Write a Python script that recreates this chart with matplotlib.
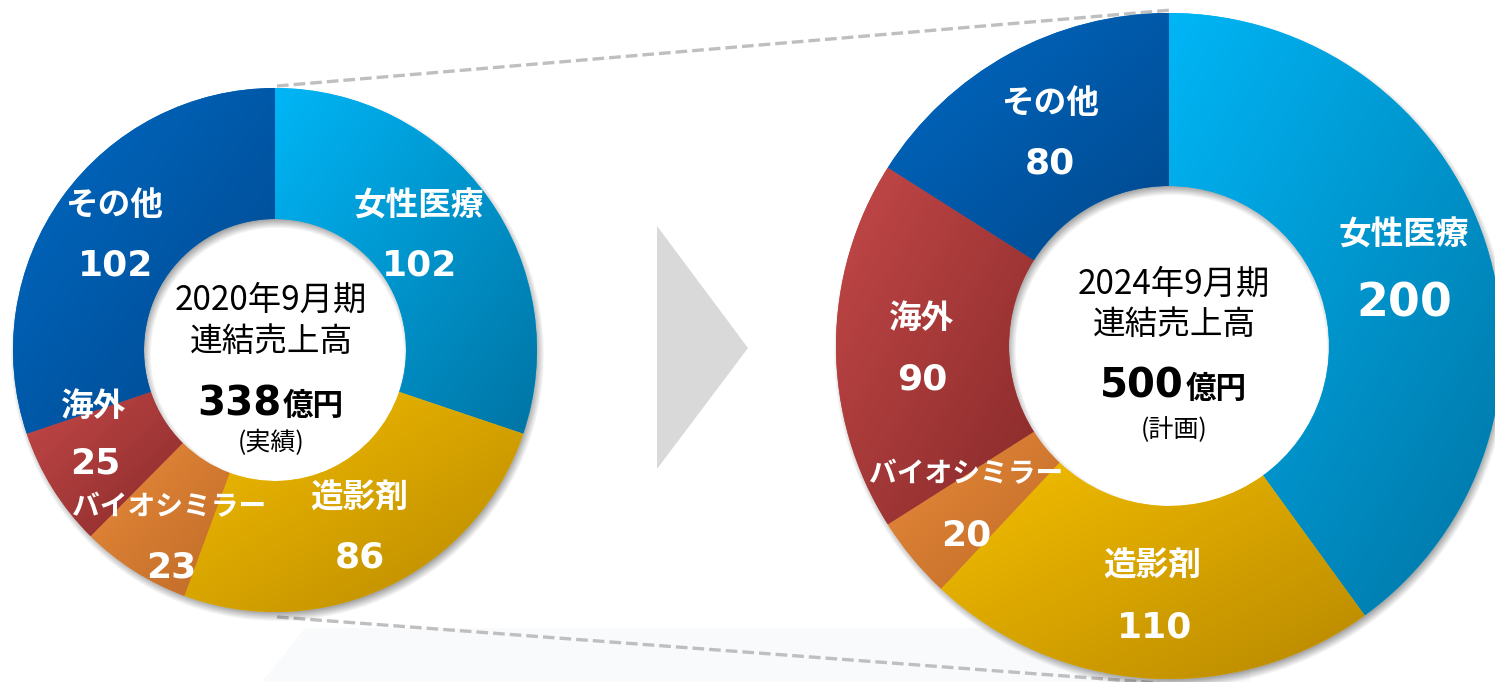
import numpy as np
import matplotlib.pyplot as plt
from matplotlib.patches import Polygon
from matplotlib.colors import to_rgb

plt.rcParams['font.family'] = ['Noto Sans CJK JP', 'DejaVu Sans']

# data
segments = ['女性医療', '造影剤', 'バイオシミラー', '海外', 'その他']
sales_2020 = [102, 86, 23, 25, 102]
sales_2024 = [200, 110, 20, 90, 80]
total_2020 = 338
total_2024 = 500
period_2020 = '2020年9月期'
period_2024 = '2024年9月期'
note_2020 = '(実績)'
note_2024 = '(計画)'

# gradient colours per segment (top-left -> bottom-right)
light = ['#00B6F6', '#F5BF00', '#E98B3A', '#C44848', '#006AC4']
dark = ['#0074A4', '#B88800', '#BE6A28', '#882A2A', '#00478C']

W, H = 1495, 682


def Y(y):
    # picture rows (top down) -> data y (bottom up)
    return H - y


fig = plt.figure(figsize=(W / 100, H / 100), dpi=100)
ax = fig.add_axes([0, 0, 1, 1])

# faint floor tint
ax.add_patch(Polygon([(262, Y(682)), (305, Y(628)), (1250, Y(628)), (1250, Y(682))],
                     closed=True, fc='#F9FAFC', ec='none', zorder=0))

# dashed connector lines and arrow
ax.plot([277, 1172], [Y(86), Y(10)], color='#BFBFBF', lw=2.4, dashes=(3.5, 1.5), zorder=1)
ax.plot([277, 1172], [Y(617), Y(684)], color='#BFBFBF', lw=2.4, dashes=(3.5, 1.5), zorder=1)
ax.add_patch(Polygon([(657, Y(226)), (748, Y(348)), (657, Y(469))],
                     closed=True, fc='#D9D9D9', ec='none', zorder=1))


def shadow(cx, cy, r_out, r_in, off=(2, -4), blur=5, a=0.38):
    x0, x1 = cx - r_out - 20, cx + r_out + 20
    y0, y1 = cy - r_out - 20, cy + r_out + 20
    xs = np.arange(x0, x1)
    ys = np.arange(y1, y0, -1)
    gx, gy = np.meshgrid(xs, ys)
    d = np.hypot(gx - cx - off[0], gy - cy - off[1])
    sm = lambda v: np.clip((v + blur) / (2 * blur), 0, 1)
    alpha = a * sm(r_out - d) * sm(d - r_in)
    img = np.zeros(alpha.shape + (4,))
    img[..., 3] = alpha
    ax.imshow(img, extent=(x0, x1, y0, y1), origin='upper', zorder=1.5)


def donut(values, cx, cy, r_out, r_in):
    shadow(cx, cy, r_out, r_in)
    wedges, _ = ax.pie(values, center=(cx, cy), radius=r_out, startangle=90,
                       counterclock=False, colors=light, frame=True,
                       wedgeprops=dict(width=r_out - r_in, linewidth=0))
    n = 256
    u = np.linspace(0, 1, n)
    t = (u[None, :] + u[:, None]) / 2
    for w, c1, c2 in zip(wedges, light, dark):
        w.set_zorder(2)
        ext = w.get_path().get_extents()
        c1, c2 = np.array(to_rgb(c1)), np.array(to_rgb(c2))
        img = c1 * (1 - t[..., None]) + c2 * t[..., None]
        im = ax.imshow(img, extent=(ext.x0, ext.x1, ext.y0, ext.y1), origin='upper',
                       interpolation='bilinear', zorder=2.1)
        im.set_clip_path(w)


donut(sales_2020, 275, Y(350), 262, 131)
donut(sales_2024, 1169, Y(346), 333, 160)

# segment labels
lab_2020 = [(419, 206), (359, 498), (169, 507), (94, 406), (114, 206)]
num_2020 = [(420, 265), (360, 557), (171, 567), (95, 464), (116, 265)]
lab_2024 = [(1404, 235), (1152, 566), (966, 474), (922, 318), (1050, 103)]
num_2024 = [(1404, 304), (1155, 627), (966, 535), (922, 380), (1050, 163)]

num_font = ['DejaVu Sans', 'Noto Sans CJK JP']
for names, vals, lp, npos in [(segments, sales_2020, lab_2020, num_2020),
                              (segments, sales_2024, lab_2024, num_2024)]:
    for name, v, (lx, ly), (nx, ny) in zip(names, vals, lp, npos):
        fs = 20 if len(name) > 4 else 23.5
        ax.text(lx, Y(ly), name, ha='center', va='center', color='white',
                fontsize=fs, fontweight='bold', zorder=5)
        size = 33 if v >= 150 else 26
        ax.text(nx, Y(ny), str(v), ha='center', va='center', color='white',
                fontsize=size, fontweight='bold', family=num_font, zorder=5)

# centre captions
for cx, period, total, note, ys in [
        (271, period_2020, total_2020, note_2020, (300, 342, 415, 443)),
        (1174, period_2024, total_2024, note_2024, (284, 325, 398, 430))]:
    ax.text(cx, Y(ys[0]), period, ha='center', va='center', fontsize=24, zorder=5)
    ax.text(cx, Y(ys[1]), '連結売上高', ha='center', va='center', fontsize=23.5, zorder=5)
    ax.text(cx + 10, Y(ys[2]), str(total), ha='right', va='baseline', fontsize=29,
            fontweight='bold', family=num_font, zorder=5)
    ax.text(cx + 12, Y(ys[2]), '億円', ha='left', va='baseline', fontsize=22,
            fontweight='bold', zorder=5)
    ax.text(cx, Y(ys[3]), note, ha='center', va='center', fontsize=18, zorder=5)

ax.set_xlim(0, W)
ax.set_ylim(0, H)
ax.set_aspect('equal')
ax.axis('off')
fig.savefig('out.png', dpi=100, facecolor='white')
